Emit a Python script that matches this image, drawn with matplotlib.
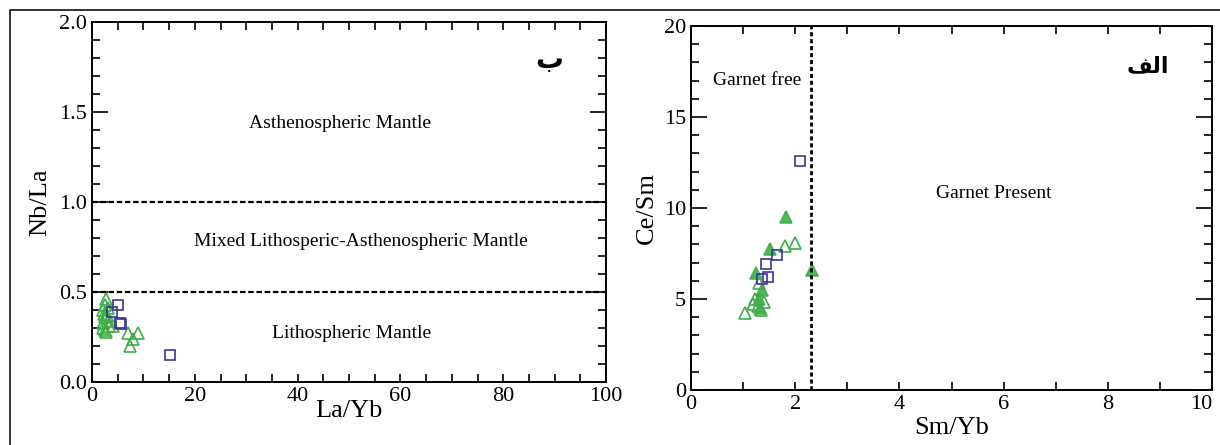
import matplotlib
matplotlib.use("Agg")
import matplotlib.pyplot as plt
from matplotlib.lines import Line2D
from matplotlib.ticker import MultipleLocator

plt.rcParams['font.family'] = ['Liberation Serif', 'DejaVu Serif']

# left panel (La/Yb vs Nb/La)
la_yb_tri = [2.8, 2.5, 2.1, 3.1, 2.5, 2.1, 3.1, 2.1, 3.4, 2.8, 4.1, 7.0, 8.9, 8.0, 7.3, 2.3, 3.0, 2.6]
nb_la_tri = [0.46, 0.43, 0.40, 0.41, 0.36, 0.33, 0.34, 0.30, 0.31, 0.28, 0.31, 0.27, 0.27, 0.24, 0.20, 0.38, 0.37, 0.29]
la_yb_sq = [5.1, 3.8, 5.7, 5.5, 15.2]
nb_la_sq = [0.43, 0.39, 0.32, 0.33, 0.15]

# right panel (Sm/Yb vs Ce/Sm)
sm_yb_tri = [2.00, 1.80, 1.30, 1.22, 1.40, 1.19, 1.34, 1.04, 1.28]
ce_sm_tri = [8.07, 7.91, 5.88, 5.02, 4.84, 4.75, 4.42, 4.24, 4.60]
sm_yb_tri_fill = [1.82, 1.51, 1.24, 1.37, 1.33, 1.30, 2.32]
ce_sm_tri_fill = [9.52, 7.76, 6.43, 5.52, 4.50, 5.00, 6.58]
sm_yb_sq = [2.10, 1.66, 1.43, 1.47, 1.37]
ce_sm_sq = [12.6, 7.40, 6.94, 6.21, 6.12]

sm_yb_ticks = [0, 2, 4, 6, 8, 10]

green = '#3fae4a'
blue = '#3a3592'

fig = plt.figure(figsize=(12.2, 4.45), dpi=100)
ax1 = fig.add_axes([92/1220, 63/445, 514/1220, 360/445])
ax2 = fig.add_axes([691/1220, 55/445, 521/1220, 364/445])

# outer frame (only left and top edges visible)
fig.add_artist(Line2D([10/1220, 10/1220, 1], [0, 1 - 10/445, 1 - 10/445],
                      transform=fig.transFigure, color='#333333', lw=1.4))

def style(ax):
    for s in ax.spines.values():
        s.set_linewidth(1.4)
    ax.tick_params(which='both', direction='in', top=True, right=True,
                   width=1.2, labelsize=16)
    ax.tick_params(axis='y', which='major', length=11.5)
    ax.tick_params(axis='y', which='minor', length=5.8)
    ax.tick_params(axis='x', which='both', length=5.8)

tri_kw = dict(marker='^', linestyle='none', ms=8, mfc='none', mec=green, mew=1.2)
sq_kw = dict(marker='s', linestyle='none', ms=7, mfc='none', mec=blue, mew=1.2)

# --- left: Nb/La vs La/Yb
ax1.plot(la_yb_tri, nb_la_tri, **tri_kw)
ax1.plot(la_yb_sq, nb_la_sq, **sq_kw)
ax1.axhline(1.0, color='black', lw=1.6, ls=(0, (2.5, 1.2)))
ax1.axhline(0.5, color='black', lw=1.6, ls=(0, (2.5, 1.2)))
ax1.set_xlim(0, 100)
ax1.set_ylim(0, 2)
ax1.xaxis.set_major_locator(MultipleLocator(20))
ax1.xaxis.set_minor_locator(MultipleLocator(5))
ax1.yaxis.set_major_locator(MultipleLocator(0.5))
ax1.yaxis.set_minor_locator(MultipleLocator(0.1))
ax1.yaxis.set_major_formatter('{x:.1f}')
style(ax1)
ax1.set_xlabel('La/Yb', fontsize=19, labelpad=-4)
ax1.set_ylabel('Nb/La', fontsize=19, labelpad=6)
ax1.text(48.2, 1.435, 'Asthenospheric Mantle', fontsize=14, ha='center', va='center')
ax1.text(52.4, 0.78, 'Mixed Lithosperic-Asthenospheric Mantle', fontsize=14, ha='center', va='center')
ax1.text(50.5, 0.27, 'Lithospheric Mantle', fontsize=14, ha='center', va='center')
ax1.text(89, 1.79, 'ب', family=['DejaVu Sans'], fontsize=20, fontweight='bold',
         ha='center', va='center')

# --- right: Ce/Sm vs Sm/Yb
ax2.plot(sm_yb_tri, ce_sm_tri, **tri_kw)
ax2.plot(sm_yb_tri_fill, ce_sm_tri_fill, marker='^', linestyle='none', ms=8,
         mfc=green, mec=green, mew=1.2, alpha=0.9)
ax2.plot(sm_yb_sq, ce_sm_sq, **sq_kw)
ax2.axvline(2.3, color='black', lw=2.0, ls=(0, (1.5, 1)))
ax2.set_xlim(0, 10)
ax2.set_ylim(0, 20)
ax2.set_xticks(sm_yb_ticks, labels=[str(t) for t in sm_yb_ticks])
ax2.xaxis.set_minor_locator(MultipleLocator(1))
ax2.yaxis.set_major_locator(MultipleLocator(5))
ax2.yaxis.set_minor_locator(MultipleLocator(1))
style(ax2)
# keep the last x tick label ("10") inside the figure
ax2.get_xticklabels()[-1].set_horizontalalignment('right')
ax2.set_xlabel('Sm/Yb', fontsize=19, labelpad=2)
ax2.set_ylabel('Ce/Sm', fontsize=19, labelpad=4)
ax2.text(1.26, 17.0, 'Garnet free', fontsize=14, ha='center', va='center')
ax2.text(5.82, 10.8, 'Garnet Present', fontsize=14, ha='center', va='center')
# "الف" written in visual order with Arabic presentation forms
ax2.text(8.76, 17.8, '\ufed2\ufedf\ufe8d', family=['DejaVu Sans'], fontsize=16,
         fontweight='bold', ha='center', va='center')

fig.savefig('out.png', dpi=100)
